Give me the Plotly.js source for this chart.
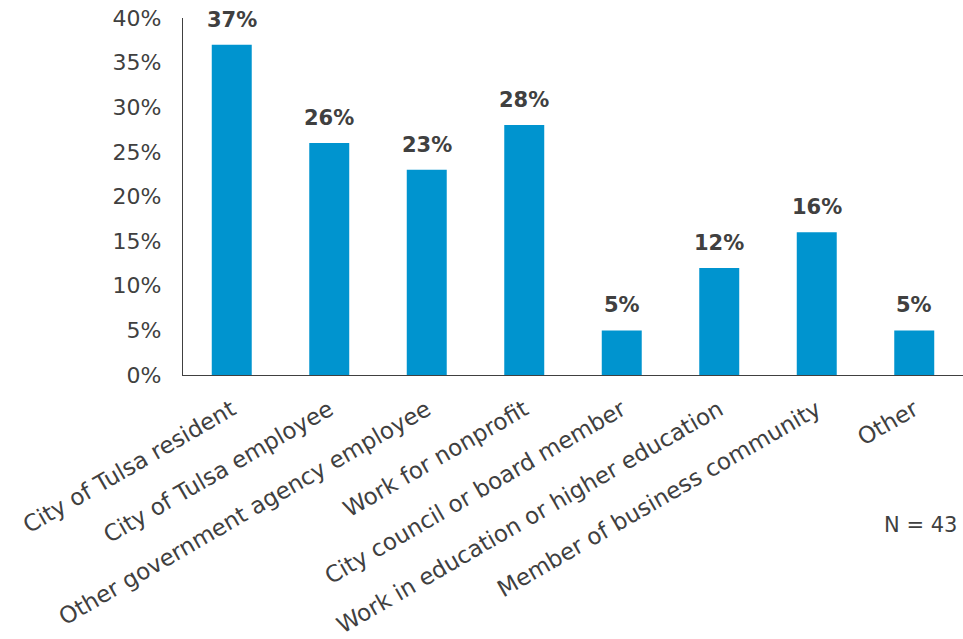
<!DOCTYPE html>
<html>
<head>
<meta charset="utf-8">
<script src="https://cdn.plot.ly/plotly-3.0.1.min.js"></script>
<style>
  html, body { margin: 0; padding: 0; background: #fff; }
  #chart { width: 963px; height: 639px; }
</style>
</head>
<body>
<div id="chart"></div>
<script>
// Respondent roles (share of respondents, N = 43)
const categories = [
  "City of Tulsa resident",
  "City of Tulsa employee",
  "Other government agency employee",
  "Work for nonprofit",
  "City council or board member",
  "Work in education or higher education",
  "Member of business community",
  "Other"
];
const shares = [37, 26, 23, 28, 5, 12, 16, 5];
const tickValues = [0, 5, 10, 15, 20, 25, 30, 35, 40];
const tickLabels = ["0%", "5%", "10%", "15%", "20%", "25%", "30%", "35%", "40%"];
const sampleNote = "N = 43";

const fontFamily = "'DejaVu Sans', 'Noto Sans', sans-serif";
const textColor = "#404040";

const trace = {
  type: "bar",
  x: categories,
  y: shares,
  marker: { color: "#0094cf" },
  width: 0.41,
  hoverinfo: "x+y"
};

// value labels sit a little above each bar
const valueLabels = categories.map((c, i) => ({
  x: c,
  y: shares[i],
  xref: "x",
  yref: "y",
  text: "<b>" + shares[i] + "%</b>",
  showarrow: false,
  yanchor: "bottom",
  yshift: 11,
  font: { family: fontFamily, size: 21, color: textColor }
}));

const layout = {
  width: 963,
  height: 639,
  margin: { l: 183, r: 0, t: 18, b: 264, pad: 0 },
  paper_bgcolor: "#ffffff",
  plot_bgcolor: "#ffffff",
  showlegend: false,
  font: { family: fontFamily, color: textColor },
  xaxis: {
    type: "category",
    tickangle: -30,
    tickfont: { family: fontFamily, size: 23, color: textColor },
    showline: true,
    linecolor: "#404040",
    linewidth: 1.3,
    ticks: "",
    ticklabelstandoff: 11,
    showgrid: false,
    zeroline: false
  },
  yaxis: {
    range: [0, 40],
    tickvals: tickValues,
    ticktext: tickLabels,
    tickfont: { family: fontFamily, size: 22, color: textColor },
    showline: true,
    linecolor: "#404040",
    linewidth: 1.3,
    ticks: "",
    ticklabelstandoff: 16,
    showgrid: false,
    zeroline: false
  },
  annotations: valueLabels.concat([{
    text: sampleNote,
    xref: "paper",
    yref: "paper",
    x: 0.995,
    y: -0.42,
    xanchor: "right",
    yanchor: "middle",
    showarrow: false,
    font: { family: fontFamily, size: 21, color: textColor }
  }])
};

Plotly.newPlot("chart", [trace], layout, { displayModeBar: false, staticPlot: true });
</script>
</body>
</html>
